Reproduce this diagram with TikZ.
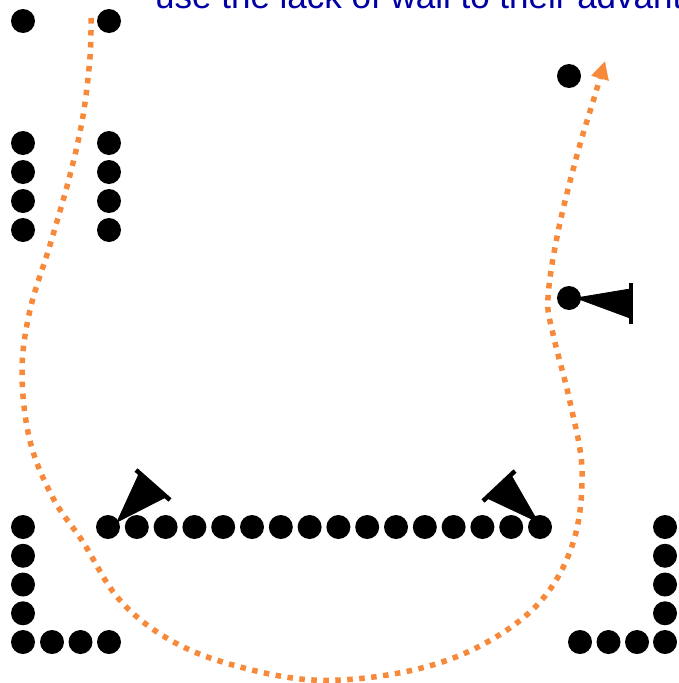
\documentclass[tikz,border=0pt]{standalone}
\usepackage{fontspec}
\setmainfont{Liberation Sans}
\usetikzlibrary{arrows.meta}
\definecolor{pathorange}{RGB}{247,137,58}
\definecolor{textblue}{RGB}{0,0,165}
\tikzset{
  player/.style={fill=black, draw=none},
  run/.style={draw=pathorange, line width=5.5pt, dash pattern=on 5.5pt off 6.5pt},
  conebody/.style={fill=black, draw=black, line width=0.8pt, line join=round},
  conerim/.style={draw=black, line width=4.5pt, line cap=butt},
}
\begin{document}
\begin{tikzpicture}[x=1pt,y=-1pt]
\useasboundingbox (0,0) rectangle (679,683);
\clip (0,0) rectangle (679,683);
\fill[white] (0,0) rectangle (679,683);
% title text
\node[anchor=base west, inner sep=0pt, text=textblue, font=\fontsize{35}{40}\selectfont] (title) at (155,8) {use the lack of wall to their advantage};
% top-left players
\foreach \x in {23,109} {
  \fill[player] (\x,21) circle (12);
  \foreach \y in {143,172,201,230} \fill[player] (\x,\y) circle (12);
}
% wall
\foreach \i in {0,...,15} \fill[player] (108+28.8*\i,527) circle (12);
% bottom-left corner
\foreach \y in {527,555.75,584.5,613.25,642} \fill[player] (23,\y) circle (12);
\foreach \x in {52,80.5,109} \fill[player] (\x,642) circle (12);
% bottom-right corner
\foreach \y in {527,555.75,584.5,613.25,642} \fill[player] (665,\y) circle (12);
\foreach \x in {580,608.5,637} \fill[player] (\x,642) circle (12);
% right players
\fill[player] (569,76) circle (12);
\fill[player] (569,298) circle (12);
% cones
\fill[conebody] (117,522) -- (139,474) -- (166,497) -- cycle;
\draw[conerim] (136,470) -- (170,500);
\fill[conebody] (538,522) -- (487,498) -- (511,475) -- cycle;
\draw[conerim] (483,501) -- (515,471);
\fill[conebody] (576,298) -- (630,289) -- (630,318) -- cycle;
\draw[conerim] (631,283) -- (631,324);
% run path
\draw[run, -{Triangle[length=18pt,width=17pt]}] plot[smooth, tension=0.6] coordinates {
  (91,18) (90,57) (83,116) (70,175) (50,245) (30,310) (22,372) (30,441)
  (53,498) (83,542) (118,598) (165,637) (226,663) (313,680) (404,672)
  (478,647) (539,603) (573,543) (582,471) (570,402) (553,334) (548,298)
  (558,232) (577,155) (595,95) (605,61)};
\end{tikzpicture}
\end{document}
